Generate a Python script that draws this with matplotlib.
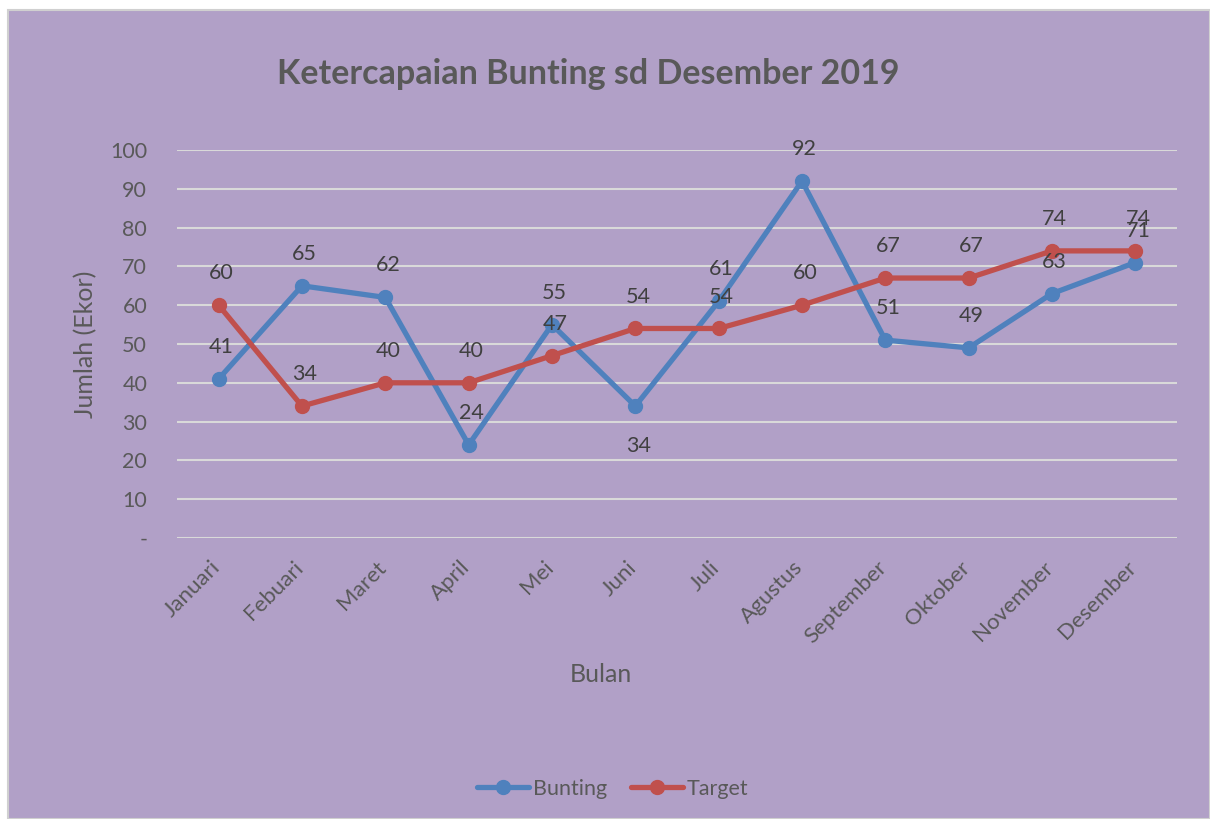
import matplotlib
matplotlib.use("Agg")
import matplotlib.pyplot as plt
import matplotlib.transforms as mtransforms
from matplotlib.patches import Rectangle

months = ["Januari", "Febuari", "Maret", "April", "Mei", "Juni", "Juli",
          "Agustus", "September", "Oktober", "November", "Desember"]
bunting = [41, 65, 62, 24, 55, 34, 61, 92, 51, 49, 63, 71]
target = [60, 34, 40, 40, 47, 54, 54, 60, 67, 67, 74, 74]
yticks = [0, 10, 20, 30, 40, 50, 60, 70, 80, 90, 100]
ytick_labels = ["-", "10", "20", "30", "40", "50", "60", "70", "80", "90", "100"]
bunting_below = [False, False, False, False, False, True, False, False, False, False, False, False]

BG = "#B1A0C7"
TXT = "#595959"
FS = 15.5
plt.rcParams['font.family'] = ['Lato', 'DejaVu Sans']

fig = plt.figure(figsize=(12.1, 8.19), dpi=100)
fig.patch.set_facecolor("white")
fig.patches.append(Rectangle((8/1210, 0), 1 - 8/1210, 1 - 10/819, transform=fig.transFigure,
                             facecolor=BG, edgecolor="#D0D0D0", linewidth=1.5, zorder=-5))

ax = fig.add_axes([177/1210, 1 - 538/819, 1000/1210, 388/819])
ax.set_zorder(2)
ax.set_facecolor("none")
x = list(range(len(months)))
ax.set_xlim(-0.5, len(months) - 0.5)
ax.set_ylim(0, 100)
ax.set_yticks(yticks)
ax.set_yticklabels(ytick_labels)
ax.yaxis.grid(True, color="#D9D9D9", linewidth=1.5)
ax.set_axisbelow(True)
for s in ax.spines.values():
    s.set_visible(False)
ax.tick_params(axis='both', length=0, colors=TXT, labelsize=FS)
ax.tick_params(axis='y', pad=21.5)
ax.set_xticks(x)
ax.set_xticklabels(months, rotation=45, ha='right', rotation_mode='anchor', fontsize=16)
ax.tick_params(axis='x', pad=14)
shift = mtransforms.ScaledTranslation(-9/100, 0, fig.dpi_scale_trans)
for lab in ax.get_xticklabels():
    lab.set_transform(lab.get_transform() + shift)

ax.plot(x, bunting, color="#4F81BD", linewidth=3.8, marker='o', markersize=10, label="Bunting",
        solid_capstyle='round', zorder=3)
ax.plot(x, target, color="#C0504D", linewidth=3.8, marker='o', markersize=10, label="Target",
        solid_capstyle='round', zorder=4)

for i, v in enumerate(bunting):
    dy = -29 if bunting_below[i] else 23
    ax.annotate(str(v), (i, v), xytext=(2, dy), textcoords='offset points', ha='center',
                va='center', fontsize=FS, color="#404040", zorder=5)
for i, v in enumerate(target):
    ax.annotate(str(v), (i, v), xytext=(2, 23), textcoords='offset points', ha='center',
                va='center', fontsize=FS, color="#404040", zorder=5)

ax.set_ylabel("Jumlah (Ekor)", fontsize=18, color=TXT)
ax.yaxis.set_label_coords(-(177 - 97) / 1000, 0.5)
fig.text(601/1210, 1 - 675/819, "Bulan", fontsize=18, color=TXT, ha='center', va='center')
fig.text(588/1210, 1 - 74/819, "Ketercapaian Bunting sd Desember 2019", fontsize=24.5,
         fontweight='bold', color=TXT, ha='center', va='center')

leg = fig.legend(loc='center', bbox_to_anchor=(613/1210, 1 - 789/819), ncol=2, frameon=False,
                 fontsize=FS, handlelength=2.4, handletextpad=0.2, columnspacing=1.1)
for t in leg.get_texts():
    t.set_color(TXT)

fig.savefig("out.png", dpi=100, facecolor=fig.get_facecolor())
